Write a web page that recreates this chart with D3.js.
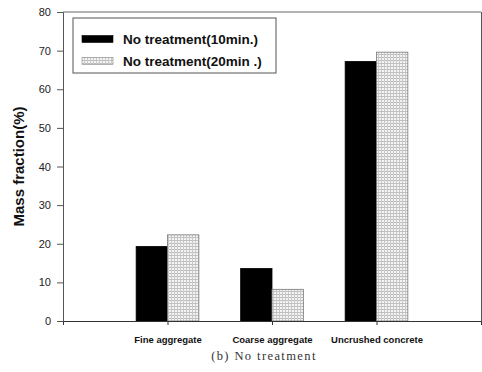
<!DOCTYPE html>
<html>
<head>
<meta charset="utf-8">
<script src="https://cdn.jsdelivr.net/npm/d3@7"></script>
<style>
  body { margin: 0; background: #fff; }
  svg { display: block; }
</style>
</head>
<body>
<svg id="chart" width="482" height="372"></svg>
<script>
// data
let categories = ["Fine aggregate", "Coarse aggregate", "Uncrushed concrete"];
let seriesNames = ["No treatment(10min.)", "No treatment(20min .)"];
let tenMin = [19.3, 13.6, 67.2];
let twentyMin = [22.3, 8.2, 69.6];
let yTicks = [0, 10, 20, 30, 40, 50, 60, 70, 80];

let svg = d3.select("#chart");

// plot box
let plotLeft = 63, plotRight = 481, plotTop = 12, plotBottom = 321;

let xScale = d3.scaleLinear().domain([0, categories.length + 1]).range([plotLeft, plotRight]);
let yScale = d3.scaleLinear().domain([0, 80]).range([plotBottom, plotTop]);
let barW = xScale(0.3) - xScale(0);

// dotted fill pattern
let defs = svg.append("defs");
let pat = defs.append("pattern")
  .attr("id", "dots")
  .attr("patternUnits", "userSpaceOnUse")
  .attr("width", 3)
  .attr("height", 3);
pat.append("rect").attr("width", 3).attr("height", 3).attr("fill", "#f4f4f4");
pat.append("rect").attr("width", 3).attr("height", 1).attr("fill", "#bdbdbd");
pat.append("rect").attr("width", 1).attr("height", 3).attr("fill", "#c8c8c8");

// bars
let series = [
  { name: seriesNames[0], values: tenMin, fill: "#000", offset: -1 },
  { name: seriesNames[1], values: twentyMin, fill: "url(#dots)", offset: 0 }
];

series.forEach(s => {
  svg.append("g")
    .selectAll("rect")
    .data(s.values)
    .join("rect")
    .attr("x", (d, i) => xScale(i + 1) + s.offset * barW)
    .attr("y", d => yScale(d))
    .attr("width", barW)
    .attr("height", d => yScale(0) - yScale(d))
    .attr("fill", s.fill)
    .attr("stroke", s.offset === 0 ? "#777" : "#000")
    .attr("stroke-width", 0.8);
});

// left axis
let yAxis = svg.append("g")
  .attr("transform", "translate(" + plotLeft + ",0)")
  .call(d3.axisLeft(yScale).tickValues(yTicks).tickSize(6).tickPadding(6));
yAxis.select(".domain").attr("stroke", "#555");
yAxis.selectAll(".tick line").attr("stroke", "#555");
yAxis.selectAll("text")
  .attr("font-family", "Liberation Sans, Arial, sans-serif")
  .attr("font-size", 11)
  .attr("fill", "#222");

// right axis (inward ticks)
let yAxisR = svg.append("g")
  .attr("transform", "translate(" + plotRight + ",0)")
  .call(d3.axisLeft(yScale).tickValues(yTicks).tickSize(-5).tickFormat(""));
yAxisR.select(".domain").attr("stroke", "#555");
yAxisR.selectAll(".tick line").attr("stroke", "#555");

// top border
svg.append("line")
  .attr("x1", plotLeft).attr("x2", plotRight)
  .attr("y1", plotTop).attr("y2", plotTop)
  .attr("stroke", "#666").attr("stroke-width", 1);

// bottom axis
let xAxis = svg.append("g")
  .attr("transform", "translate(0," + plotBottom + ")")
  .call(d3.axisBottom(xScale)
    .tickValues(categories.map((c, i) => i + 1))
    .tickFormat((d) => categories[d - 1])
    .tickSize(4)
    .tickPadding(11));
xAxis.select(".domain").attr("stroke", "#333");
xAxis.selectAll(".tick line").attr("stroke", "#333");
xAxis.selectAll("text")
  .attr("font-family", "Liberation Sans, Arial, sans-serif")
  .attr("font-size", 9.5)
  .attr("font-weight", "bold")
  .attr("fill", "#111");

// y label
svg.append("text")
  .attr("transform", "translate(24," + ((plotTop + plotBottom) / 2) + ") rotate(-90)")
  .attr("text-anchor", "middle")
  .attr("font-family", "Liberation Sans, Arial, sans-serif")
  .attr("font-size", 15)
  .attr("font-weight", "bold")
  .attr("fill", "#111")
  .text("Mass fraction(%)");

// legend
let legend = svg.append("g");
legend.append("rect")
  .attr("x", 73).attr("y", 18)
  .attr("width", 203).attr("height", 55)
  .attr("fill", "#fff")
  .attr("stroke", "#555")
  .attr("stroke-width", 1);

series.forEach((s, i) => {
  let y = 39 + i * 22;
  legend.append("rect")
    .attr("x", 82).attr("y", y - 3.5)
    .attr("width", 31).attr("height", 7)
    .attr("fill", s.fill)
    .attr("stroke", s.offset === 0 ? "#888" : "#000")
    .attr("stroke-width", 0.6);
  legend.append("text")
    .attr("x", 123).attr("y", y + 5)
    .attr("font-family", "Liberation Sans, Arial, sans-serif")
    .attr("font-size", 13.5)
    .attr("font-weight", "bold")
    .attr("fill", "#111")
    .text(s.name);
});

// caption
svg.append("text")
  .attr("x", 264).attr("y", 360)
  .attr("text-anchor", "middle")
  .attr("font-family", "Liberation Serif, serif")
  .attr("font-size", 12.5)
  .attr("letter-spacing", 1.4)
  .attr("fill", "#333")
  .text("(b) No treatment");
</script>
</body>
</html>
